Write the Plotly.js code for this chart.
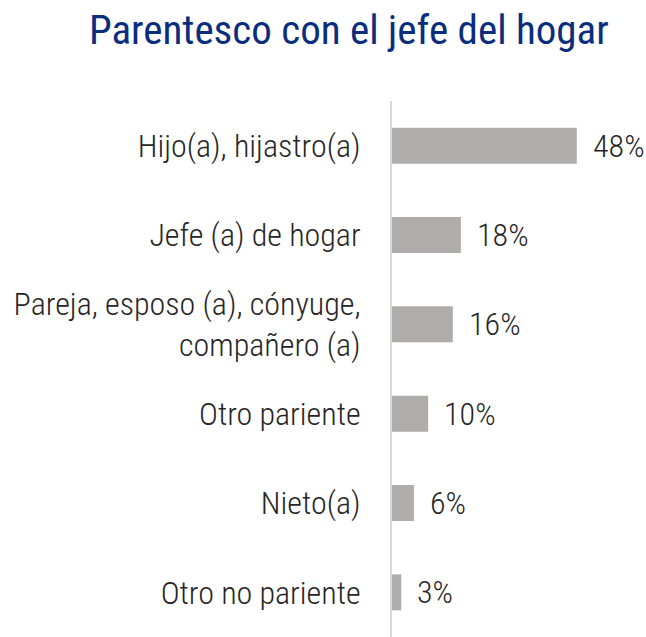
<!DOCTYPE html>
<html><head><meta charset="utf-8">
<script src="https://cdn.plot.ly/plotly-3.0.1.min.js"></script>
<style>html,body{margin:0;padding:0;overflow:hidden;background:#fff}</style>
</head><body><div id="chart" style="width:646px;height:637px"></div>
<script>
const categories = ["Hijo(a), hijastro(a)", "Jefe (a) de hogar", "Pareja, esposo (a), cónyuge,<br>compañero (a)", "Otro pariente", "Nieto(a)", "Otro no pariente"];
const values = [48, 17.9, 15.8, 9.4, 5.7, 2.4];
const valueLabels = ["48%", "18%", "16%", "10%", "6%", "3%"];

const FONT = "'Roboto Condensed', 'Liberation Sans Narrow', Roboto, sans-serif";

const trace = {
  type: 'bar', orientation: 'h',
  x: values, y: categories,
  marker: {color: '#b0acab'},
  hoverinfo: 'none'
};

const annotations = values.map((v, i) => ({
  x: v, y: categories[i], xref: 'x', yref: 'y',
  text: valueLabels[i], showarrow: false,
  xanchor: 'left', xshift: 14,
  font: {family: FONT, size: 32, weight: 300, color: '#262626'}
}));

const layout = {
  width: 646, height: 637,
  margin: {l: 392, r: 23, t: 101, b: 0},
  paper_bgcolor: '#fff', plot_bgcolor: '#fff',
  title: {
    text: 'Parentesco con el jefe del hogar',
    font: {family: FONT, size: 41, color: '#0a2d7e'},
    xref: 'container', yref: 'container',
    x: 0.540, xanchor: 'center', y: 0.953, yanchor: 'middle'
  },
  xaxis: {range: [0, 60], visible: false, fixedrange: true},
  yaxis: {
    autorange: 'reversed', showline: true, linecolor: '#d9d9d9', linewidth: 2,
    showgrid: false, zeroline: false, ticks: '', ticklabelstandoff: 23,
    tickfont: {family: FONT, size: 32, weight: 300, color: '#262626'}
  },
  bargap: 0.597,
  showlegend: false,
  annotations: annotations
};

Plotly.newPlot('chart', [trace], layout, {displayModeBar: false, staticPlot: true});
</script></body></html>
